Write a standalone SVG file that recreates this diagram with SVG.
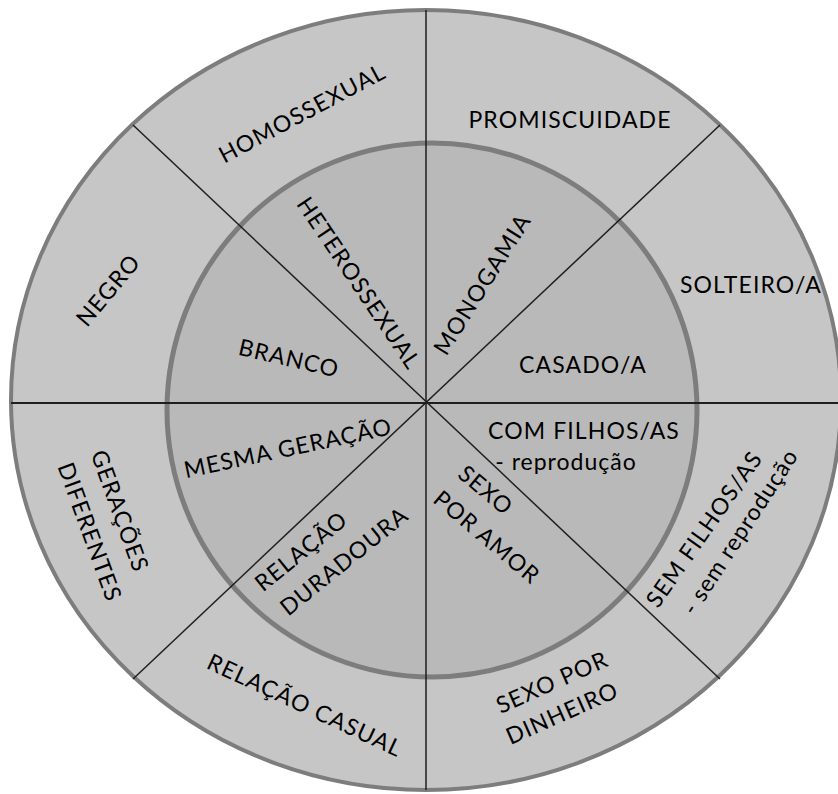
<svg xmlns="http://www.w3.org/2000/svg" width="838" height="794" viewBox="0 0 838 794">
<style>
.t{font-family:Lato,"Open Sans","Liberation Sans",sans-serif;font-size:23px;fill:#000;text-anchor:middle;letter-spacing:1.1px}
.lc{letter-spacing:1px}
.ln{stroke:#1e1e1e;stroke-width:1.5;fill:none}
</style>
<rect width="838" height="794" fill="#ffffff"/>
<g id="outer-ring"><ellipse cx="426" cy="400" rx="415" ry="390" fill="#c6c6c6" stroke="#7d7d7d" stroke-width="4"/></g>
<g id="inner-circle"><ellipse cx="432" cy="410" rx="265" ry="267" fill="#b9b9b9" stroke="#7d7d7d" stroke-width="5"/></g>
<g id="connectors">
<line class="ln" x1="426" y1="10" x2="426" y2="790"/>
<line class="ln" x1="11" y1="403" x2="838" y2="403" style="stroke-width:2"/>
<line class="ln" x1="133" y1="125" x2="720" y2="679"/>
<line class="ln" x1="133" y1="679" x2="720" y2="125"/>
</g>
<g id="promiscuidade"><text class="t" x="570" y="128">PROMISCUIDADE</text></g>
<g id="solteiro"><text class="t" x="751" y="293">SOLTEIRO/A</text></g>
<g id="casado"><text class="t" x="583" y="373">CASADO/A</text></g>
<g id="monogamia"><text class="t" transform="translate(482,284) rotate(-58)" dy="0.36em">MONOGAMIA</text></g>
<g id="heterossexual"><text class="t" transform="translate(359,283) rotate(56)" dy="0.36em">HETEROSSEXUAL</text></g>
<g id="homossexual"><text class="t" transform="translate(302,113) rotate(-28)" dy="0.36em">HOMOSSEXUAL</text></g>
<g id="negro"><text class="t" transform="translate(108,290) rotate(-50)" dy="0.36em">NEGRO</text></g>
<g id="branco"><text class="t" transform="translate(289,358) rotate(13)" dy="0.36em">BRANCO</text></g>
<g id="mesma-geracao"><text class="t" transform="translate(288,448) rotate(-12)" dy="0.36em">MESMA GERAÇÃO</text></g>
<g id="geracoes-diferentes">
<text class="t" transform="translate(120,511) rotate(70)" dy="0.36em">GERAÇÕES</text>
<text class="t" transform="translate(90,532) rotate(70)" dy="0.36em">DIFERENTES</text>
</g>
<g id="relacao-duradoura">
<text class="t" transform="translate(301,551) rotate(-39)" dy="0.36em">RELAÇÃO</text>
<text class="t" transform="translate(344,561) rotate(-39)" dy="0.36em">DURADOURA</text>
</g>
<g id="relacao-casual"><text class="t" transform="translate(305,705) rotate(25)" dy="0.36em">RELAÇÃO CASUAL</text></g>
<g id="sexo-por-dinheiro">
<text class="t" transform="translate(552,682) rotate(-24)" dy="0.36em">SEXO POR</text>
<text class="t" transform="translate(562,713) rotate(-24)" dy="0.36em">DINHEIRO</text>
</g>
<g id="sexo-por-amor">
<text class="t" transform="translate(486,490) rotate(40)" dy="0.36em">SEXO</text>
<text class="t" transform="translate(487,537) rotate(40)" dy="0.36em">POR AMOR</text>
</g>
<g id="com-filhos">
<text class="t" x="584" y="439">COM FILHOS/AS</text>
<text class="t lc" x="566" y="470">- reprodução</text>
</g>
<g id="sem-filhos">
<text class="t" transform="translate(704,529) rotate(-55)" dy="0.36em">SEM FILHOS/AS</text>
<text class="t lc" transform="translate(742,533) rotate(-57)" dy="0.25em">- sem reprodução</text>
</g>
</svg>
